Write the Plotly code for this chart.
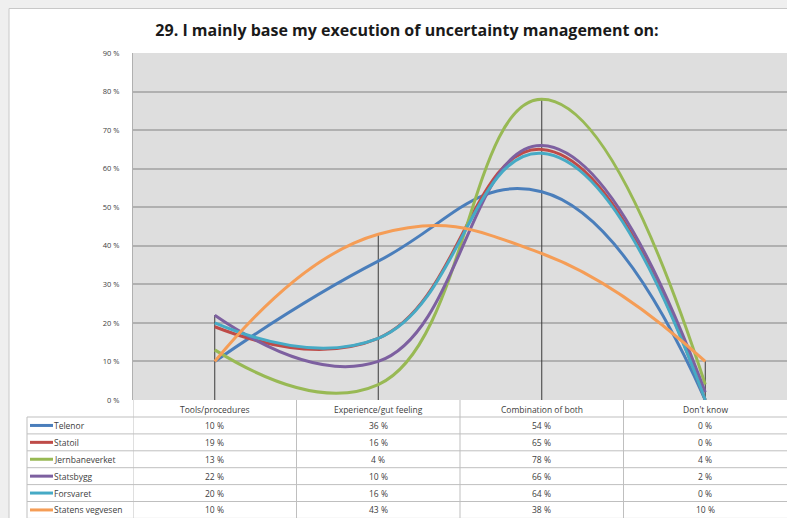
import plotly.graph_objects as go

categories = ["Tools/procedures", "Experience/gut feeling", "Combination of both", "Don't know"]
series_names = ["Telenor", "Statoil", "Jernbaneverket", "Statsbygg", "Forsvaret", "Statens vegvesen"]
telenor = [10, 36, 54, 0]
statoil = [19, 16, 65, 0]
jernbaneverket = [13, 4, 78, 4]
statsbygg = [22, 10, 66, 2]
forsvaret = [20, 16, 64, 0]
statens_vegvesen = [10, 43, 38, 10]
colors = ["#4A7EBB", "#BE4B48", "#98B954", "#7D60A0", "#46AAC5", "#F59D56"]
y_ticks = [0, 10, 20, 30, 40, 50, 60, 70, 80, 90]

series = [telenor, statoil, jernbaneverket, statsbygg, forsvaret, statens_vegvesen]

W, H = 787, 518
L, R, T, B = 133, 0, 53, 118
plot_w = W - L - R
plot_h = H - T - B

def py(p):  # page pixel y -> paper y (plot-relative)
    return (H - B - p) / plot_h

def px(p):  # page pixel x -> paper x (plot-relative)
    return (p - L) / plot_w

fig = go.Figure()

# drop lines
dx, dy = [], []
for i in range(len(categories)):
    top = max(s[i] for s in series)
    dx += [i, i, None]
    dy += [0, top / 100, None]
fig.add_trace(go.Scatter(x=dx, y=dy, mode="lines", line=dict(color="#3a3a3a", width=1),
                         hoverinfo="skip", showlegend=False))

for name, vals, c in zip(series_names, series, colors):
    fig.add_trace(go.Scatter(
        x=list(range(len(categories))), y=[v / 100 for v in vals], name=name,
        mode="lines", line=dict(color=c, width=3, shape="spline", smoothing=1.3),
        showlegend=False))

shapes = []
annotations = []
grid_col = "#BFBFBF"
# outer background band and chart frame
shapes.append(dict(type="rect", xref="paper", yref="paper", x0=px(0), x1=px(800),
                   y0=py(0), y1=py(8.5), line=dict(width=0), fillcolor="#EFEFEF", layer="below"))
shapes.append(dict(type="rect", xref="paper", yref="paper", x0=px(0), x1=px(9),
                   y0=py(0), y1=py(530), line=dict(width=0), fillcolor="#EFEFEF", layer="below"))
shapes.append(dict(type="rect", xref="paper", yref="paper", x0=px(9), x1=px(800),
                   y0=py(8.5), y1=py(530), line=dict(color="#C8C8C8", width=1)))

# table
row_h = 16.9
rows_top = 417
row_lines = [rows_top + k * row_h for k in range(len(series_names) + 1)]
for yl in row_lines:
    shapes.append(dict(type="line", xref="paper", yref="paper", x0=px(27), x1=1,
                       y0=py(yl), y1=py(yl), line=dict(color=grid_col, width=1)))
shapes.append(dict(type="line", xref="paper", yref="paper", x0=px(27), x1=px(27),
                   y0=py(rows_top), y1=py(rows_top + 6 * row_h), line=dict(color=grid_col, width=1)))
for xb in [-0.5, 0.5, 1.5, 2.5]:
    shapes.append(dict(type="line", xref="x", yref="paper", x0=xb, x1=xb,
                       y0=0, y1=py(rows_top + 6 * row_h), line=dict(color=grid_col, width=1)))

txt_font = dict(family="Open Sans, sans-serif", size=8.5, color="#404040")
for i, cat in enumerate(categories):
    annotations.append(dict(x=i, y=py(409), xref="x", yref="paper", text=cat,
                            showarrow=False, font=txt_font, xanchor="center", yanchor="middle"))
for r, (name, vals, c) in enumerate(zip(series_names, series, colors)):
    yc = rows_top + (r + 0.5) * row_h
    shapes.append(dict(type="line", xref="paper", yref="paper", x0=px(30), x1=px(53),
                       y0=py(yc), y1=py(yc), line=dict(color=c, width=3)))
    annotations.append(dict(x=px(52), y=py(yc), xref="paper", yref="paper", text=name,
                            showarrow=False, font=txt_font, xanchor="left", yanchor="middle"))
    for i, v in enumerate(vals):
        annotations.append(dict(x=i, y=py(yc), xref="x", yref="paper", text=f"{v} %",
                                showarrow=False, font=txt_font, xanchor="center", yanchor="middle"))

fig.update_layout(
    width=W, height=H,
    margin=dict(l=L, r=R, t=T, b=B, pad=0),
    paper_bgcolor="white",
    plot_bgcolor="#DEDEDE",
    title=dict(text="<b>29. I mainly base my execution of uncertainty management on:</b>",
               x=407 / W, xanchor="center", y=1 - 30 / H, yanchor="middle",
               font=dict(family="Open Sans, sans-serif", size=16, color="#1a1a1a")),
    xaxis=dict(range=[-0.5, 3.5], showticklabels=False, showgrid=False, zeroline=False,
               showline=False, ticks=""),
    yaxis=dict(range=[0, 0.9], tickvals=[t / 100 for t in y_ticks],
               ticktext=[f"{t} %" for t in y_ticks], showgrid=True, gridcolor="#B0B0B0",
               gridwidth=1.5, zeroline=False, showline=True, linecolor="#B0B0B0",
               ticks="", ticklabelstandoff=11,
               tickfont=dict(family="Open Sans, sans-serif", size=7.5, color="#404040")),
    shapes=shapes, annotations=annotations,
    showlegend=False,
)

fig.write_html("out.html", config={"displayModeBar": False},
               post_script="document.body.style.margin='0';document.body.style.overflow='hidden';")
